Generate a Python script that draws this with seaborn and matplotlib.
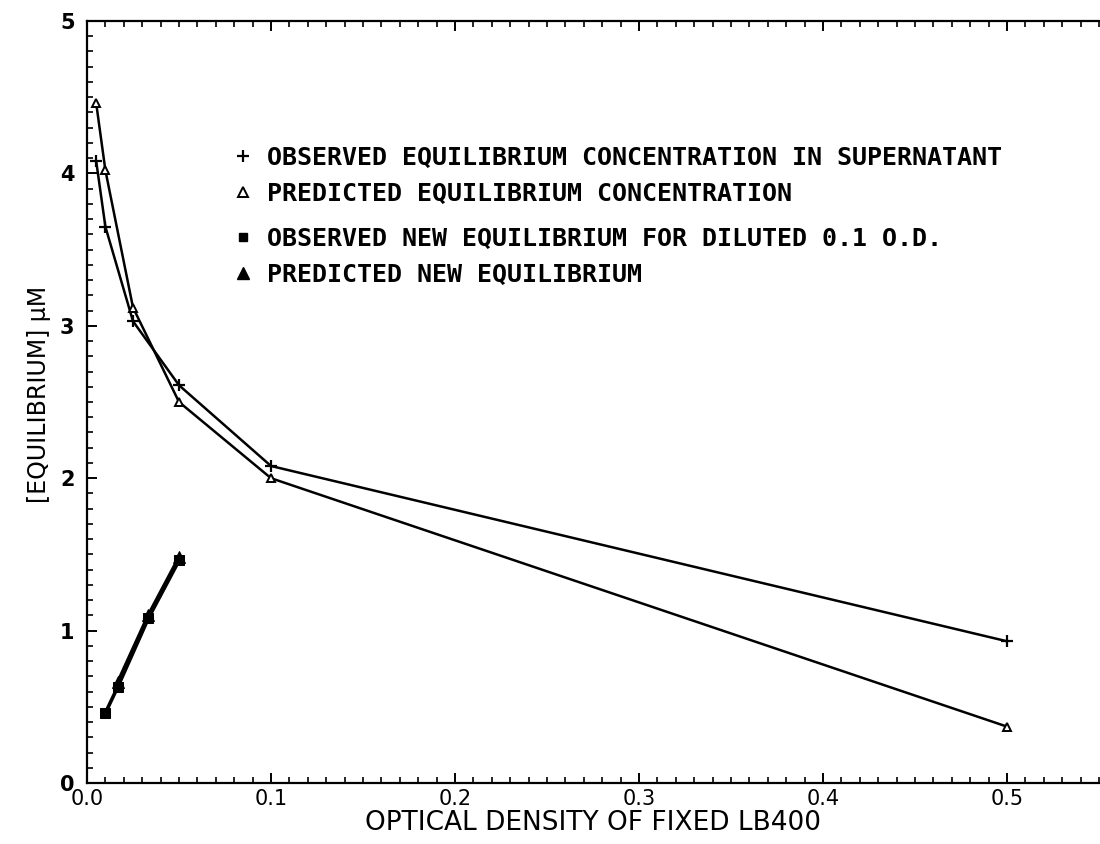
import matplotlib
matplotlib.use("Agg")
import matplotlib.pyplot as plt
from matplotlib.lines import Line2D
from matplotlib.ticker import MultipleLocator, FormatStrFormatter
import seaborn as sns
import pandas as pd

# ---- data ----
od = [0.005, 0.01, 0.025, 0.05, 0.1, 0.5]
observed_eq = [4.08, 3.65, 3.03, 2.61, 2.08, 0.93]
predicted_eq = [4.46, 4.02, 3.12, 2.50, 2.00, 0.37]

dil_od_obs = [0.01, 0.0167, 0.0333, 0.05]
observed_new = [0.46, 0.63, 1.08, 1.46]
dil_od_pred = [0.0167, 0.0333, 0.05]
predicted_new = [0.66, 1.10, 1.48]

legend_labels = [
    "OBSERVED EQUILIBRIUM CONCENTRATION IN SUPERNATANT",
    "PREDICTED EQUILIBRIUM CONCENTRATION",
    "OBSERVED NEW EQUILIBRIUM FOR DILUTED 0.1 O.D.",
    "PREDICTED NEW EQUILIBRIUM",
]
x_label = "OPTICAL DENSITY OF FIXED LB400"
y_label = "[EQUILIBRIUM] µM"

sns.set_style("ticks")
plt.rcParams["font.family"] = ["DejaVu Sans"]
plt.rcParams["text.color"] = "black"
plt.rcParams["axes.labelcolor"] = "black"

fig = plt.figure(figsize=(11, 8.44), dpi=100)
ax = fig.add_axes([87 / 1100, 61 / 844, 1012 / 1100, 762 / 844])

df_obs = pd.DataFrame({"od": od, "val": observed_eq})
df_pred = pd.DataFrame({"od": od, "val": predicted_eq})
df_obs_new = pd.DataFrame({"od": dil_od_obs, "val": observed_new})
df_pred_new = pd.DataFrame({"od": dil_od_pred, "val": predicted_new})

lw = 1.8
sns.lineplot(data=df_obs, x="od", y="val", ax=ax, color="black", lw=lw,
             marker="+", markersize=8, markeredgewidth=1.6, markeredgecolor="black")
sns.lineplot(data=df_pred, x="od", y="val", ax=ax, color="black", lw=lw,
             marker="^", markersize=6, markerfacecolor="white", markeredgewidth=1.4,
             markeredgecolor="black")
sns.lineplot(data=df_obs_new, x="od", y="val", ax=ax, color="black", lw=lw + 0.8,
             marker="s", markersize=7, markeredgecolor="black", markerfacecolor="black")
sns.lineplot(data=df_pred_new, x="od", y="val", ax=ax, color="black", lw=lw + 0.8,
             marker="^", markersize=8, markeredgecolor="black", markerfacecolor="black")

ax.set_xlim(0, 0.55)
ax.set_ylim(0, 5)
ax.xaxis.set_major_locator(MultipleLocator(0.1))
ax.xaxis.set_minor_locator(MultipleLocator(0.01))
ax.yaxis.set_major_locator(MultipleLocator(1))
ax.yaxis.set_minor_locator(MultipleLocator(0.1))
ax.xaxis.set_major_formatter(FormatStrFormatter("%.1f"))
ax.yaxis.set_major_formatter(FormatStrFormatter("%d"))

for s in ["left", "bottom", "top"]:
    ax.spines[s].set_linewidth(1.6)
    ax.spines[s].set_color("black")
ax.spines["right"].set_visible(False)

ax.tick_params(axis="both", which="major", direction="in", length=7, width=1.4,
               top=True, right=False, colors="black")
ax.tick_params(axis="both", which="minor", direction="in", length=4, width=1.2,
               top=True, right=False, colors="black")
ax.tick_params(axis="x", which="major", labelsize=15, pad=4)
ax.tick_params(axis="y", which="major", labelsize=15, pad=9)
for t in ax.get_yticklabels():
    t.set_fontweight("bold")

ax.set_xlabel(x_label, fontsize=19, labelpad=1, color="black")
ax.set_ylabel(y_label, fontsize=17, color="black")
ax.yaxis.set_label_coords(-0.036, 0.51)

mono = {"family": "DejaVu Sans Mono", "weight": "bold", "size": 18}
h1 = Line2D([], [], ls="none", marker="+", color="black", markersize=9, markeredgewidth=1.6)
h2 = Line2D([], [], ls="none", marker="^", color="black", markersize=7,
            markerfacecolor="white", markeredgewidth=1.4)
h3 = Line2D([], [], ls="none", marker="s", color="black", markersize=6)
h4 = Line2D([], [], ls="none", marker="^", color="black", markersize=8)

common = dict(loc="upper left", frameon=False, prop=mono, handlelength=1.0,
              handletextpad=0.46, borderpad=0, borderaxespad=0, labelspacing=0.47,
              labelcolor="black")
leg1 = ax.legend([h1, h2], legend_labels[:2], bbox_to_anchor=(0.1418, 0.836), **common)
ax.add_artist(leg1)
ax.legend([h3, h4], legend_labels[2:], bbox_to_anchor=(0.1418, 0.7297), **common)

fig.savefig("out.png", dpi=100)
